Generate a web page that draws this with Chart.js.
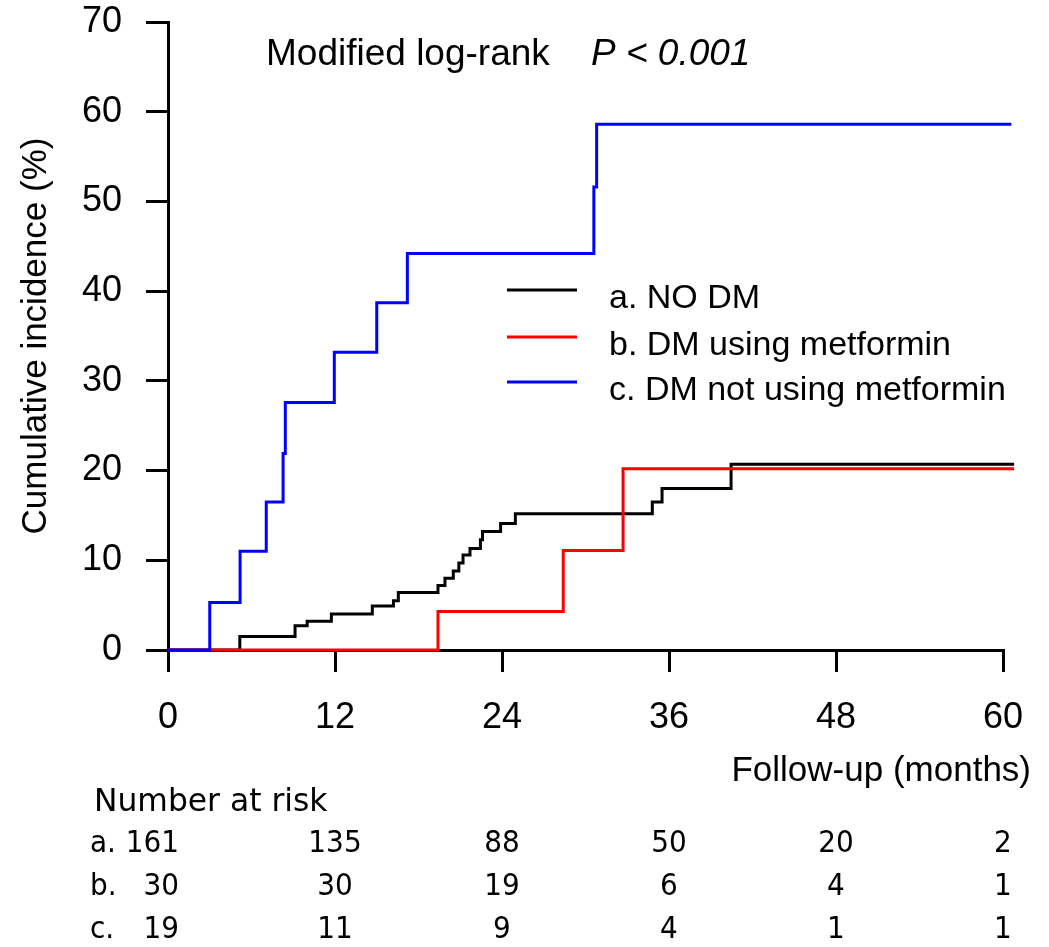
<!DOCTYPE html>
<html>
<head>
<meta charset="utf-8">
<script src="https://cdn.jsdelivr.net/npm/chart.js@4.4.1/dist/chart.umd.min.js"></script>
<style>
  body { margin: 0; background: #fff; }
</style>
</head>
<body>
<canvas id="kmChart" width="1049" height="947"></canvas>
<script>
// step curves: time of each jump (months) and cumulative incidence after it (%)
const timesA = [0, 5.16, 9.13, 10.0, 11.74, 14.68, 16.2, 16.55, 19.4, 19.9, 20.5, 20.9, 21.2, 21.7, 22.45, 22.6, 23.9, 24.96, 34.8, 35.5, 40.46, 60.8];
const valuesA = [0, 1.5, 2.7, 3.2, 4.0, 4.9, 5.5, 6.4, 7.2, 8.0, 8.8, 9.7, 10.6, 11.3, 12.3, 13.2, 14.1, 15.2, 16.5, 18.0, 20.7, 20.7];
const timesB = [0, 19.4, 28.4, 32.7, 60.8];
const valuesB = [0, 4.3, 11.1, 20.2, 20.2];
const timesC = [0, 3.0, 5.18, 7.06, 8.27, 8.43, 11.95, 15.0, 17.2, 30.6, 30.8, 60.6];
const valuesC = [0, 5.3, 11.0, 16.5, 21.9, 27.6, 33.2, 38.7, 44.2, 51.6, 58.6, 58.6];

const groupLabels = ["a. NO DM", "b. DM using metformin", "c. DM not using metformin"];
const groupColors = ["#000000", "#ff0000", "#0000ff"];

// number at risk table
const riskMonths = [0, 12, 24, 36, 48, 60];
const riskPrefixes = ["a.", "b.", "c."];
const riskA = [161, 135, 88, 50, 20, 2];
const riskB = [30, 30, 19, 6, 4, 1];
const riskC = [19, 11, 9, 4, 1, 1];

const yTicks = [0, 10, 20, 30, 40, 50, 60, 70];
const xTicks = [0, 12, 24, 36, 48, 60];

function toPoints(times, values) {
  return times.map((t, i) => ({ x: t, y: values[i] }));
}

const ARIAL = "'Liberation Sans', Arial, sans-serif";
const RISKFONT = "'DejaVu Sans', Verdana, sans-serif";

// draw narrow text: squeeze horizontally around the anchor
function narrowText(ctx, txt, x, y, align, squeeze) {
  ctx.save();
  ctx.translate(x, y);
  ctx.scale(squeeze, 1);
  ctx.textAlign = align;
  ctx.fillText(txt, 0, 0);
  ctx.restore();
}

const extras = {
  id: "extras",
  afterDraw(chart) {
    const ctx = chart.ctx;
    const xs = chart.scales.x;
    ctx.save();
    ctx.fillStyle = "#000";
    ctx.textBaseline = "alphabetic";

    // title
    ctx.font = "37px " + ARIAL;
    ctx.textAlign = "left";
    ctx.fillText("Modified log-rank", 266, 65);
    ctx.font = "italic 37px " + ARIAL;
    ctx.fillText("P < 0.001", 591, 65);

    // legend
    const legendY = [290, 337, 382];
    ctx.font = "34px " + ARIAL;
    groupLabels.forEach((lab, i) => {
      ctx.strokeStyle = groupColors[i];
      ctx.lineWidth = 3;
      ctx.beginPath();
      ctx.moveTo(507, legendY[i]);
      ctx.lineTo(577, legendY[i]);
      ctx.stroke();
      ctx.fillText(lab, 609, legendY[i] + 18);
    });

    // y axis title
    ctx.save();
    ctx.translate(46, (chart.chartArea.top + chart.chartArea.bottom) / 2);
    ctx.rotate(-Math.PI / 2);
    ctx.textAlign = "center";
    ctx.font = "35px " + ARIAL;
    ctx.fillText("Cumulative incidence (%)", 0, 0);
    ctx.restore();

    // x axis title
    ctx.textAlign = "right";
    ctx.font = "35px " + ARIAL;
    ctx.fillText("Follow-up (months)", 1031, 781);

    // number at risk
    ctx.font = "32px " + RISKFONT;
    narrowText(ctx, "Number at risk", 94, 811, "left", 0.98);
    const rows = [riskA, riskB, riskC];
    const rowY = [852, 895, 938];
    ctx.font = "31px " + RISKFONT;
    rows.forEach((row, r) => {
      narrowText(ctx, riskPrefixes[r], 90, rowY[r], "left", 0.9);
      row.forEach((n, c) => {
        if (c === 0) {
          narrowText(ctx, String(n), 179, rowY[r], "right", 0.9);
        } else {
          narrowText(ctx, String(n), xs.getPixelForValue(riskMonths[c]), rowY[r], "center", 0.9);
        }
      });
    });
    ctx.restore();
  }
};

const lineStyle = {
  borderWidth: 3,
  pointRadius: 0,
  stepped: true,
  fill: false,
  clip: false,
  borderJoinStyle: "miter",
  borderCapStyle: "butt"
};

new Chart(document.getElementById("kmChart"), {
  type: "line",
  data: {
    datasets: [
      // index 0 is drawn last (on top)
      Object.assign({ label: groupLabels[2], data: toPoints(timesC, valuesC), borderColor: groupColors[2] }, lineStyle),
      Object.assign({ label: groupLabels[1], data: toPoints(timesB, valuesB), borderColor: groupColors[1] }, lineStyle),
      Object.assign({ label: groupLabels[0], data: toPoints(timesA, valuesA), borderColor: groupColors[0] }, lineStyle)
    ]
  },
  options: {
    responsive: false,
    animation: false,
    layout: { padding: { left: 0, right: 46, top: 22, bottom: 0 } },
    plugins: { legend: { display: false }, tooltip: { enabled: false } },
    scales: {
      x: {
        type: "linear",
        min: 0,
        max: 60,
        afterBuildTicks: (s) => { s.ticks = xTicks.map(v => ({ value: v })); },
        afterFit: (s) => { s.height = 297; },
        ticks: { color: "#000", font: { family: ARIAL, size: 36 }, padding: 24, maxRotation: 0 },
        grid: { drawOnChartArea: false, tickLength: 22, color: "#000", lineWidth: 3 },
        border: { color: "#000", width: 3 }
      },
      y: {
        min: 0,
        max: 70,
        afterBuildTicks: (s) => { s.ticks = yTicks.map(v => ({ value: v })); },
        afterFit: (s) => { s.width = 168; s.paddingTop = 0; s.paddingBottom = 0; },
        ticks: { color: "#000", font: { family: ARIAL, size: 36 }, padding: 24 },
        grid: { drawOnChartArea: false, tickLength: 22, color: "#000", lineWidth: 3 },
        border: { color: "#000", width: 3 }
      }
    }
  },
  plugins: [extras]
});
</script>
</body>
</html>
